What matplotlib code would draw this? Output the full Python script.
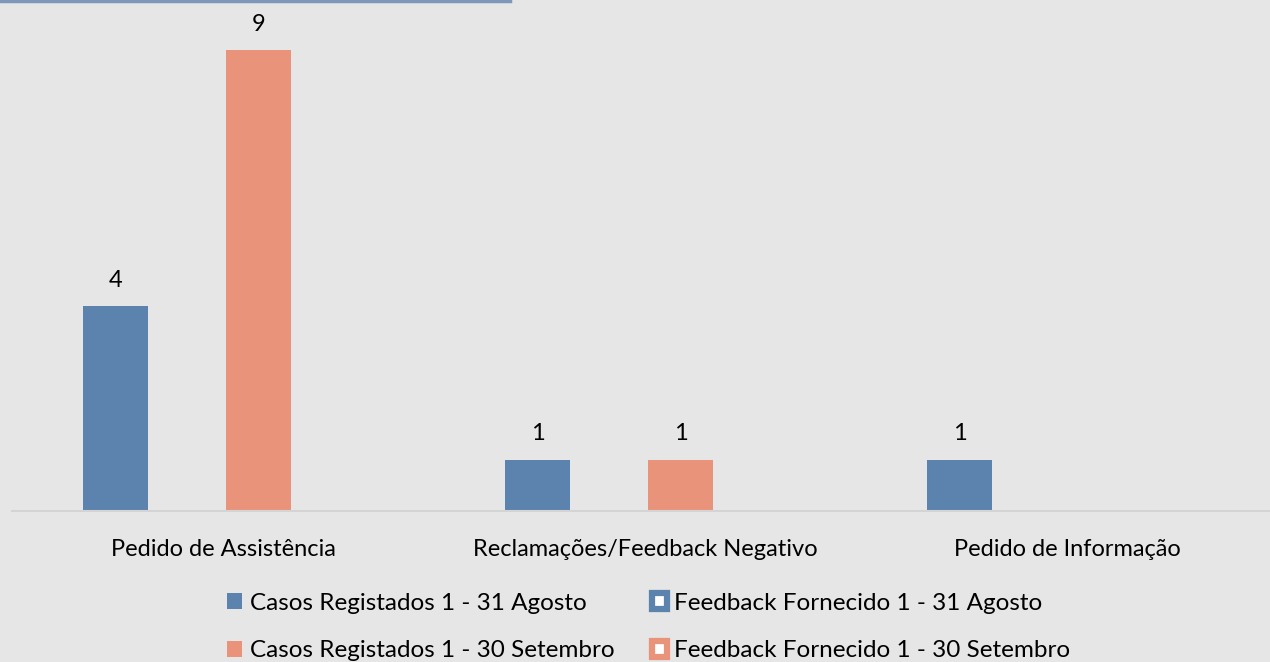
import matplotlib
matplotlib.use("Agg")
import matplotlib.pyplot as plt
from matplotlib.patches import Rectangle
from matplotlib.lines import Line2D
import numpy as np

categories = ["Pedido de Assistência", "Reclamações/Feedback Negativo", "Pedido de Informação"]
casos_agosto = [4, 1, 1]
feedback_agosto = [0, 0, 0]
casos_setembro = [9, 1, 0]
feedback_setembro = [0, 0, 0]
series_names = ["Casos Registados 1 - 31 Agosto", "Feedback Fornecido 1 - 31 Agosto",
                "Casos Registados 1 - 30 Setembro", "Feedback Fornecido 1 - 30 Setembro"]

BLUE = "#5B83AD"
ORANGE = "#E8937A"
BG = "#E6E6E6"

plt.rcParams['font.family'] = ['Lato', 'DejaVu Sans']

fig = plt.figure(figsize=(12.7, 6.62), dpi=100, facecolor=BG)
ax = fig.add_axes([12/1270, 1 - 511/662, 1266/1270, 511/662])
ax.set_facecolor(BG)

x = np.arange(len(categories))
spacing = 0.1695
width = 0.154
series = [casos_agosto, feedback_agosto, casos_setembro, feedback_setembro]
colors = [BLUE, BLUE, ORANGE, ORANGE]
offsets = [-1.5, -0.5, 0.5, 1.5]
for vals, col, off in zip(series, colors, offsets):
    bars = ax.bar(x + off * spacing, vals, width, color=col, edgecolor='none')
    for b, v in zip(bars, vals):
        if v > 0:
            ax.annotate(str(v), (b.get_x() + b.get_width() / 2, v), xytext=(0, 26),
                        textcoords='offset pixels', ha='center', va='center', fontsize=17)

ax.set_xlim(-0.5, 2.5)
ax.set_ylim(0, 511 / 51.2)
for s in ['top', 'right', 'left']:
    ax.spines[s].set_visible(False)
ax.spines['bottom'].set_color('#D4D4D4')
ax.spines['bottom'].set_linewidth(1.5)
ax.set_yticks([])
ax.set_xticks(x)
ax.set_xticklabels(categories, fontsize=17)
ax.tick_params(axis='x', length=0, pad=20)

handles = [
    Rectangle((0, 0), 1, 1, facecolor=BLUE, edgecolor='none'),
    Rectangle((0, 0), 1, 1, facecolor=ORANGE, edgecolor='none'),
    Rectangle((0, 0), 1, 1, facecolor='white', edgecolor=BLUE, linewidth=4.5, joinstyle='round'),
    Rectangle((0, 0), 1, 1, facecolor='white', edgecolor=ORANGE, linewidth=4.5, joinstyle='round'),
]
labels = [series_names[0], series_names[2], series_names[1], series_names[3]]
leg = fig.legend(handles, labels, ncol=2, loc='center', bbox_to_anchor=(649/1270, 1 - 627/662),
                 frameon=False, fontsize=17.5, handlelength=0.62, handleheight=0.62,
                 handletextpad=0.3, columnspacing=1.55, labelspacing=1.1)

fig.add_artist(Line2D([0, 510/1270], [1 - 1/662, 1 - 1/662], color='#7F97B9', linewidth=2.5))

fig.savefig("out.png", dpi=100, facecolor=BG)
